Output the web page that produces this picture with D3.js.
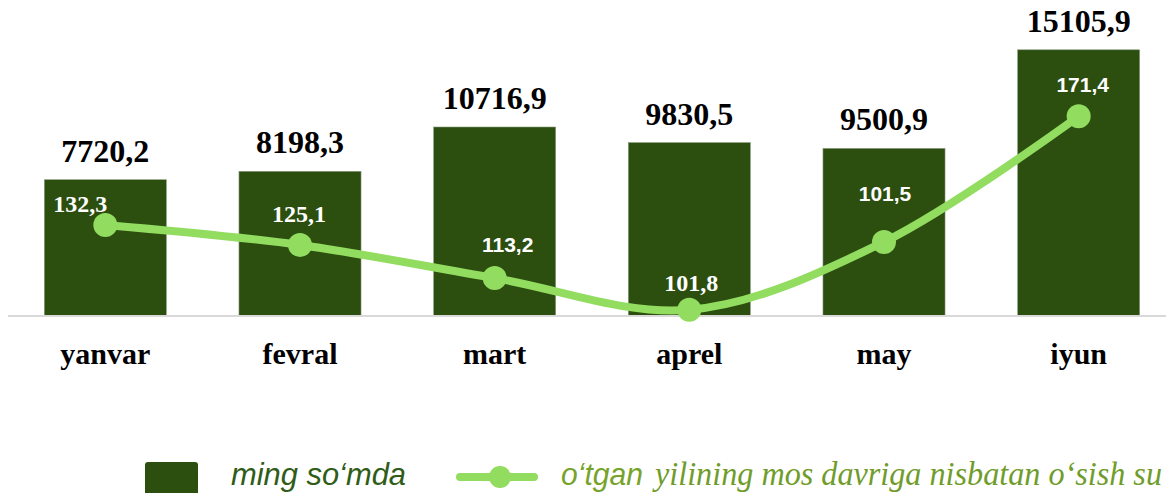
<!DOCTYPE html>
<html>
<head>
<meta charset="utf-8">
<script src="https://cdn.jsdelivr.net/npm/d3@7"></script>
<style>
  body { margin: 0; background: #fff; }
  svg { display: block; }
</style>
</head>
<body>
<div id="chart"></div>
<script>
// data
const months = ["yanvar", "fevral", "mart", "aprel", "may", "iyun"];
const amounts = [7720.2, 8198.3, 10716.9, 9830.5, 9500.9, 15105.9];
const amountLabels = ["7720,2", "8198,3", "10716,9", "9830,5", "9500,9", "15105,9"];
// growth %, as plotted (may point sits higher than its label says)
const growth = [132.3, 125.1, 113.2, 101.8, 126.2, 171.4];
const growthLabels = ["132,3", "125,1", "113,2", "101,8", "101,5", "171,4"];

const width = 1166, height = 493;
const barColor = "#2c4f10";
const lineColor = "#92dc60";
const serif = "'Liberation Serif', 'Times New Roman', serif";
const sans = "'Liberation Sans', Arial, sans-serif";

const svg = d3.select("#chart").append("svg")
  .attr("width", width)
  .attr("height", height);

const x = d3.scaleBand()
  .domain(months)
  .range([8, 1176])
  .paddingInner(0.373)
  .paddingOuter(0.1865);

const y = d3.scaleLinear().domain([0, 17937]).range([315.5, 0]);
const yLine = d3.scaleLinear().domain([99.75, 213.2]).range([315.5, 0]);

// bars
svg.append("g")
  .selectAll("rect")
  .data(amounts)
  .join("rect")
  .attr("x", (d, i) => x(months[i]))
  .attr("y", d => y(d))
  .attr("width", x.bandwidth())
  .attr("height", d => y(0) - y(d))
  .attr("fill", barColor)
  .attr("stroke", "#8c9c80")
  .attr("stroke-width", 0.6);

// baseline
svg.append("line")
  .attr("x1", 8).attr("x2", width)
  .attr("y1", y(0) + 0.5).attr("y2", y(0) + 0.5)
  .attr("stroke", "#d9d9d9")
  .attr("stroke-width", 2);

// value labels above bars
svg.append("g")
  .selectAll("text")
  .data(amounts)
  .join("text")
  .attr("x", (d, i) => x(months[i]) + x.bandwidth() / 2)
  .attr("y", d => y(d) - 18)
  .attr("text-anchor", "middle")
  .attr("font-family", serif)
  .attr("font-weight", "bold")
  .attr("font-size", 32)
  .attr("fill", "#000")
  .text((d, i) => amountLabels[i]);

// month labels
svg.append("g")
  .selectAll("text")
  .data(months)
  .join("text")
  .attr("x", d => x(d) + x.bandwidth() / 2)
  .attr("y", 364)
  .attr("text-anchor", "middle")
  .attr("font-family", serif)
  .attr("font-weight", "bold")
  .attr("font-size", 30)
  .attr("fill", "#000")
  .text(d => d);

// growth line
const pts = growth.map((v, i) => [x(months[i]) + x.bandwidth() / 2, yLine(v)]);

svg.append("path")
  .datum(pts)
  .attr("fill", "none")
  .attr("stroke", lineColor)
  .attr("stroke-width", 8)
  .attr("stroke-linecap", "round")
  .attr("d", d3.line().curve(d3.curveCatmullRom.alpha(0.5)));

svg.append("g")
  .selectAll("circle")
  .data(pts)
  .join("circle")
  .attr("cx", d => d[0])
  .attr("cy", d => d[1])
  .attr("r", 12)
  .attr("fill", lineColor);

// label placement as in the original (some serif, some sans)
const labelDx = [-25, -1, 13, 2, 1, 4];
const labelDy = [-13, -23, -26, -19, -41, -24];
const labelSerif = [true, true, false, true, false, false];

svg.append("g")
  .selectAll("text")
  .data(pts)
  .join("text")
  .attr("x", (d, i) => d[0] + labelDx[i])
  .attr("y", (d, i) => d[1] + labelDy[i])
  .attr("text-anchor", "middle")
  .attr("font-family", (d, i) => labelSerif[i] ? serif : sans)
  .attr("font-size", (d, i) => labelSerif[i] ? 24 : 21)
  .attr("font-weight", "bold")
  .attr("fill", "#fff")
  .text((d, i) => growthLabels[i]);

// legend
const legend = svg.append("g");
legend.append("rect")
  .attr("x", 145).attr("y", 462)
  .attr("width", 53).attr("height", 36)
  .attr("rx", 3)
  .attr("fill", barColor);
legend.append("text")
  .attr("x", 231).attr("y", 485)
  .attr("font-family", sans)
  .attr("font-style", "italic")
  .attr("font-size", 32)
  .attr("textLength", 175)
  .attr("lengthAdjust", "spacingAndGlyphs")
  .attr("fill", "#2f5c17")
  .text("ming so‘mda");

legend.append("line")
  .attr("x1", 460).attr("x2", 534)
  .attr("y1", 477).attr("y2", 477)
  .attr("stroke", lineColor)
  .attr("stroke-width", 8)
  .attr("stroke-linecap", "round");
legend.append("circle")
  .attr("cx", 500).attr("cy", 477)
  .attr("r", 11)
  .attr("fill", lineColor);
legend.append("text")
  .attr("x", 561).attr("y", 485)
  .attr("font-family", sans)
  .attr("font-style", "italic")
  .attr("font-size", 32)
  .attr("textLength", 82)
  .attr("lengthAdjust", "spacingAndGlyphs")
  .attr("fill", "#77a32b")
  .text("o‘tgan");
// the original legend runs off the right edge after "su"
legend.append("text")
  .attr("x", 655).attr("y", 485)
  .attr("font-family", serif)
  .attr("font-style", "italic")
  .attr("font-size", 33)
  .attr("textLength", 507)
  .attr("lengthAdjust", "spacingAndGlyphs")
  .attr("fill", "#6f9c2a")
  .text("yilining mos davriga nisbatan o‘sish su");
</script>
</body>
</html>
